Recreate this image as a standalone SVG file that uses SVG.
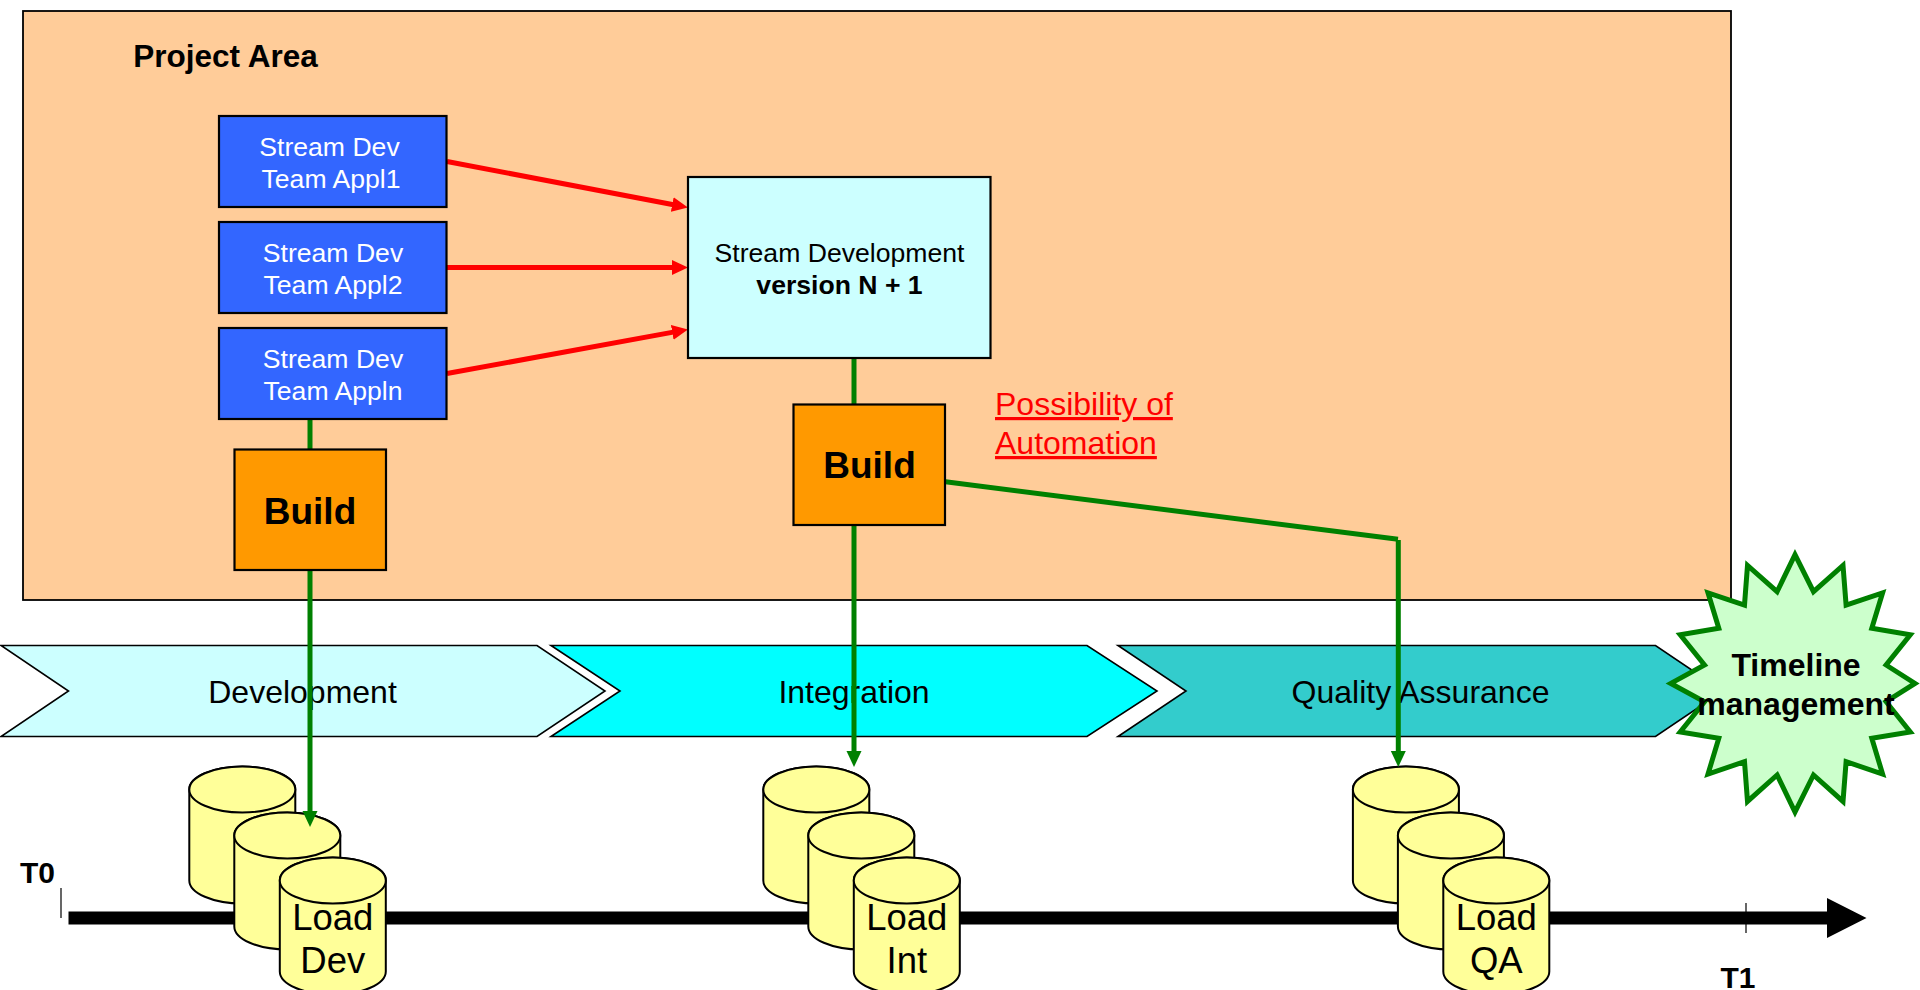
<svg xmlns="http://www.w3.org/2000/svg" width="1920" height="990" viewBox="0 0 1920 990">
<style>
text{font-family:"Liberation Sans",Arial,sans-serif;text-anchor:middle;fill:#000}
.s{font-size:26.6px}
.w{fill:#fff}
.b{font-weight:bold}
.m{font-size:32px}
.l{font-size:36.5px}
.box{stroke:#000;stroke-width:2.2}
.blue{fill:#3366FF}
.org{fill:#FF9900}
.chev{stroke:#000;stroke-width:1.6}
.cyl{fill:#FFFF99;stroke:#000;stroke-width:2}
.red{stroke:#FF0000;stroke-width:5;fill:none;marker-end:url(#ar)}
.grn{stroke:#008000;stroke-width:5;fill:none}
.gar{marker-end:url(#ag)}
.note{text-anchor:start;fill:#FF0000;text-decoration:underline;font-size:32px}
</style>
<defs>
<marker id="ar" markerUnits="userSpaceOnUse" markerWidth="16" markerHeight="16" refX="8" refY="8" orient="auto"><path d="M0,0.5L16,8L0,15.5z" fill="#FF0000"/></marker>
<marker id="ag" markerUnits="userSpaceOnUse" markerWidth="16" markerHeight="16" refX="8" refY="8" orient="auto"><path d="M0,0.5L16,8L0,15.5z" fill="#008000"/></marker>
<g id="cylshape">
<path class="cyl" d="M0,23V114A53,23 0 0 0 106,114V23A53,23 0 0 0 0,23z"/>
<path class="cyl" d="M0,23A53,23 0 0 0 106,23A53,23 0 0 0 0,23z"/>
</g>
</defs>
<g id="project-area">
<rect x="23" y="11" width="1708" height="589" fill="#FFCC99" stroke="#000" stroke-width="1.8"/>
<text class="b" x="225.500" y="66.500" font-size="31.500">Project Area</text>
</g>
<g id="timeline">
<path d="M68.500,911.500H1827V898L1866.500,918L1827,938V924.500H68.500z" fill="#000"/>
<line x1="61" y1="888" x2="61" y2="918" stroke="#000" stroke-width="1.2"/>
<line x1="1746" y1="903" x2="1746" y2="933" stroke="#000" stroke-width="1.2"/>
<text class="b" x="37.500" y="883" font-size="30px">T0</text>
<text class="b" x="1738" y="988" font-size="30px">T1</text>
</g>
<g id="phase-development">
<path class="chev" fill="#CCFFFF" d="M1,645.500H537L605,691L537,736.500H1L68.500,691z"/>
<text class="m" x="302.500" y="703">Development</text>
</g>
<g id="phase-integration">
<path class="chev" fill="#00FFFF" d="M551,645.500H1087L1157,691L1087,736.500H551L620,691z"/>
<text class="m" x="854" y="703">Integration</text>
</g>
<g id="phase-qa">
<path class="chev" fill="#33CCCC" d="M1118,645.500H1655.500L1723,691L1655.500,736.500H1118L1186,691z"/>
<text class="m" x="1420.500" y="703">Quality Assurance</text>
</g>
<g id="load-dev">
<use href="#cylshape" x="189.300" y="766.500"/>
<use href="#cylshape" x="234.300" y="812.500"/>
<use href="#cylshape" x="279.800" y="857.500"/>
<text class="l" x="332.800" y="929.500">Load</text>
<text class="l" x="332.800" y="973">Dev</text>
</g>
<g id="load-int">
<use href="#cylshape" x="763.300" y="766.500"/>
<use href="#cylshape" x="808.300" y="812.500"/>
<use href="#cylshape" x="853.800" y="857.500"/>
<text class="l" x="906.800" y="929.500">Load</text>
<text class="l" x="906.800" y="973">Int</text>
</g>
<g id="load-qa">
<use href="#cylshape" x="1352.900" y="766.500"/>
<use href="#cylshape" x="1397.900" y="812.500"/>
<use href="#cylshape" x="1443.300" y="857.500"/>
<text class="l" x="1496.300" y="929.500">Load</text>
<text class="l" x="1496.300" y="973">QA</text>
</g>
<g id="connectors">
<line class="red" x1="447" y1="161.500" x2="680.100" y2="206"/>
<line class="red" x1="447" y1="267.500" x2="680" y2="267.500"/>
<line class="red" x1="447" y1="373.500" x2="680.100" y2="330.900"/>
<line class="grn" x1="310" y1="419" x2="310" y2="449"/>
<line class="grn gar" x1="310" y1="570" x2="310" y2="819"/>
<line class="grn" x1="854" y1="358" x2="854" y2="404"/>
<line class="grn gar" x1="854" y1="525" x2="854" y2="759"/>
<line class="grn" x1="945.500" y1="481.700" x2="1398" y2="539.300"/>
<line class="grn gar" x1="1398.300" y1="540" x2="1398.300" y2="759"/>
</g>
<g id="stream-appl1">
<rect class="box blue" x="219" y="116" width="227.500" height="91"/>
<text class="s w" x="329.500" y="156">Stream Dev</text>
<text class="s w" x="331" y="188">Team Appl1</text>
</g>
<g id="stream-appl2">
<rect class="box blue" x="219" y="222" width="227.500" height="91"/>
<text class="s w" x="333" y="262">Stream Dev</text>
<text class="s w" x="333" y="294">Team Appl2</text>
</g>
<g id="stream-appln">
<rect class="box blue" x="219" y="328" width="227.500" height="91"/>
<text class="s w" x="333" y="368">Stream Dev</text>
<text class="s w" x="333" y="400">Team Appln</text>
</g>
<g id="stream-development">
<rect class="box" fill="#CCFFFF" x="688" y="177" width="302.500" height="181"/>
<text class="s" x="839.500" y="262">Stream Development</text>
<text class="s b" x="839.500" y="294">version N + 1</text>
</g>
<g id="build-1">
<rect class="box org" x="234.500" y="449.500" width="151.500" height="120.500"/>
<text class="b" font-size="37" x="310" y="523.500">Build</text>
</g>
<g id="build-2">
<rect class="box org" x="793.500" y="404.500" width="151.500" height="120.500"/>
<text class="b" font-size="37" x="869.500" y="477.500">Build</text>
</g>
<g id="automation-note">
<text class="note" x="995" y="415">Possibility of</text>
<text class="note" x="995" y="454">Automation</text>
</g>
<g id="timeline-management">
<polygon fill="#CCFFCC" stroke="#008000" stroke-width="5" points="1795,554.700 1813.500,591.700 1843,565.400 1846.100,605 1882.600,592.800 1871.800,628.300 1910.300,634.800 1886.100,665 1915,683.400 1886.100,701.700 1910.300,732 1871.800,738.300 1882.600,774 1846.100,761.700 1843,801.400 1813.500,775 1795,812.100 1777.100,775 1747.500,801.400 1744.500,761.700 1708,774 1718.800,738.300 1680.200,732 1704.500,701.700 1670.800,683.400 1704.500,665 1680.200,634.800 1718.800,628.300 1708,592.800 1744.500,605 1747.500,565.400 1777.100,591.700"/>
<text class="m b" x="1796" y="676">Timeline</text>
<text class="m b" x="1796" y="715">management</text>
</g>
</svg>
